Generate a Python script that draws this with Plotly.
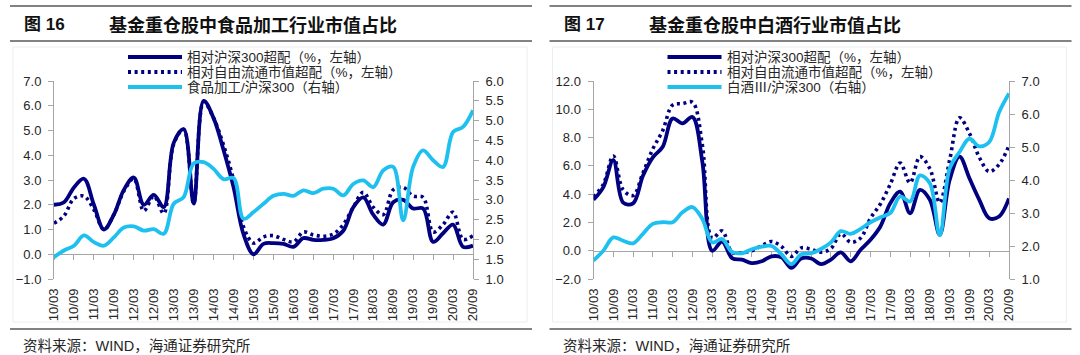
import plotly.graph_objects as go

W, H = 1080, 355

# ---------------- data ----------------
quarters = ["10/03", "10/06", "10/09", "10/12", "11/03", "11/06", "11/09", "11/12",
            "12/03", "12/06", "12/09", "12/12", "13/03", "13/06", "13/09", "13/12",
            "14/03", "14/06", "14/09", "14/12", "15/03", "15/06", "15/09", "15/12",
            "16/03", "16/06", "16/09", "16/12", "17/03", "17/06", "17/09", "17/12",
            "18/03", "18/06", "18/09", "18/12", "19/03", "19/06", "19/09", "19/12",
            "20/03", "20/06", "20/09"]
tick_labels = ["10/03", "10/09", "11/03", "11/09", "12/03", "12/09", "13/03", "13/09",
               "14/03", "14/09", "15/03", "15/09", "16/03", "16/09", "17/03", "17/09",
               "18/03", "18/09", "19/03", "19/09", "20/03", "20/09"]
tick_labels = [t for t in tick_labels if t in quarters]

# Figure 16: food processing
food_vs_hs300 = [2.0, 2.1, 2.7, 3.05, 2.0, 1.0, 1.6, 2.6, 3.1, 2.0,
                 2.4, 1.9, 4.5, 5.05, 2.05, 6.2, 5.5, 4.2, 2.7, 0.8,
                 0.0, 0.42, 0.45, 0.42, 0.3, 0.65, 0.58, 0.58, 0.65, 0.95,
                 1.9, 2.3, 1.6, 1.2, 2.1, 2.2, 1.85, 1.85, 0.5, 0.85,
                 1.2, 0.3, 0.35]
food_vs_free = [1.25, 1.55, 2.25, 2.35, 1.8, 1.0, 1.6, 2.55, 3.05, 1.75,
                2.35, 1.65, 4.45, 5.05, 2.05, 6.15, 5.5, 4.4, 3.0, 1.1,
                0.45, 0.7, 0.75, 0.6, 0.5, 0.9, 0.78, 0.73, 0.82, 1.2,
                1.9, 2.5, 1.9, 1.6, 2.6, 2.7, 2.35, 2.3, 0.9, 1.2,
                1.7, 0.6, 0.75]
food_ratio = [1.55, 1.72, 1.84, 2.1, 1.93, 1.84, 2.05, 2.3, 2.33, 2.22,
              2.26, 2.14, 2.9, 3.07, 3.92, 3.95, 3.78, 3.52, 3.55, 2.52,
              2.69, 2.9, 3.1, 3.15, 3.1, 3.24, 3.17, 3.28, 3.28, 3.11,
              3.4, 3.49, 3.32, 3.74, 3.83, 2.48, 3.83, 4.25, 4.0, 3.83,
              4.71, 4.84, 5.26]

# Figure 17: baijiu
bj_vs_hs300 = [3.6, 4.5, 6.4, 3.4, 3.35, 5.3, 6.6, 7.35, 9.35, 9.0,
               9.46, 6.3, 0.0, 0.65, -0.52, -0.63, -0.87, -0.75, -0.4, -0.47,
               -1.22, -0.55, -0.55, -0.95, -0.63, -0.12, -0.75, 0.07, 0.77, 1.71,
               3.36, 4.18, 2.65, 4.3, 3.6, 1.13, 5.0, 6.65, 5.12, 3.6,
               2.3, 2.42, 3.7]
bj_vs_free = [3.8, 4.7, 6.7, 4.3, 3.9, 5.5, 7.2, 8.5, 10.3, 10.4,
              10.5, 7.5, 0.9, 1.4, -0.1, -0.15, 0.0, 0.35, 0.65, 0.3,
              -0.4, 0.2, 0.1, -0.1, 0.15, 1.2, 0.6, 0.9, 2.3, 3.3,
              4.7, 6.2, 4.8, 6.65, 5.8, 3.4, 6.4, 9.4, 8.3, 6.6,
              5.6, 6.1, 7.45]
bj_ratio = [1.56, 1.86, 2.26, 2.16, 2.08, 2.37, 2.67, 2.72, 2.72, 3.02,
            3.18, 2.82, 2.11, 2.21, 1.82, 1.78, 1.9, 1.98, 2.0, 1.75,
            1.45, 1.75, 1.78, 1.91, 2.11, 2.45, 2.37, 2.52, 2.72, 2.87,
            3.0, 3.5, 3.35, 4.14, 3.9, 2.32, 4.35, 4.85, 5.25, 5.02,
            5.15, 6.05, 6.62]

panels = [
    dict(fig_no="图 16", title="基金重仓股中食品加工行业市值占比",
         s1=food_vs_hs300, s2=food_vs_free, s3=food_ratio,
         n1="相对沪深300超配（%，左轴）", n2="相对自由流通市值超配（%，左轴）",
         n3="食品加工/沪深300（右轴）",
         yl=[-1, 7], yl_dtick=1, yr=[1, 6], yr_dtick=0.5),
    dict(fig_no="图 17", title="基金重仓股中白酒行业市值占比",
         s1=bj_vs_hs300, s2=bj_vs_free, s3=bj_ratio,
         n1="相对沪深300超配（%，左轴）", n2="相对自由流通市值超配（%，左轴）",
         n3="白酒Ⅲ/沪深300（右轴）",
         yl=[-2, 12], yl_dtick=2, yr=[1, 7], yr_dtick=1),
]

# ---------------- style ----------------
NAVY = "#000080"
CYAN = "#1EC0F0"
AXIS = "#A6A6A6"
TXT = "#262626"
RULE = "#595959"
NUM_FONT = "Liberation Sans, Arial, Noto Sans CJK SC"
CJK_FONT = "Liberation Sans, Noto Sans CJK SC"


def px(x):
    return x / W


def py(y):
    return 1 - y / H


OFF = 539.5  # horizontal offset of second panel
plot_x = [(54, 473), (593.5, 1009)]
plot_y = (81, 279)
ydom = [py(plot_y[1]), py(plot_y[0])]

fig = go.Figure()
layout = dict(width=W, height=H, margin=dict(l=0, r=0, t=0, b=0, autoexpand=False),
              autosize=False, paper_bgcolor="white", plot_bgcolor="rgba(0,0,0,0)",
              showlegend=False)
shapes, annos = [], []

for k, p in enumerate(panels):
    xa_lab = "x" if k == 0 else "x3"
    xa_zero = "x2" if k == 0 else "x4"
    ya_l = "y" if k == 0 else "y3"
    ya_r = "y2" if k == 0 else "y4"
    dom = [px(plot_x[k][0]), px(plot_x[k][1])]
    lo, hi = p["yl"]
    zero_pos = ydom[0] + (0 - lo) / (hi - lo) * (ydom[1] - ydom[0])

    common_x = dict(type="category", categoryorder="array", categoryarray=quarters,
                    range=[0, len(quarters) - 1], domain=dom, showgrid=False,
                    zeroline=False, tickmode="array", tickvals=tick_labels,
                    automargin=False)
    layout["xaxis" + ("" if k == 0 else "3")] = dict(
        common_x, anchor=ya_l, showline=False, ticks="", tickangle=-90,
        ticktext=tick_labels, tickfont=dict(family=NUM_FONT, size=13, color=TXT),
        ticklabelstandoff=6)
    layout["xaxis" + ("2" if k == 0 else "4")] = dict(
        common_x, anchor="free", position=zero_pos, overlaying=xa_lab,
        showline=True, linecolor=AXIS, linewidth=1, ticks="outside", ticklen=5,
        tickcolor=AXIS, tickwidth=1, showticklabels=False, layer="below traces")
    yfont = dict(family=NUM_FONT, size=13, color=TXT)
    layout["yaxis" + ("" if k == 0 else "3")] = dict(
        domain=ydom, anchor=xa_lab, range=p["yl"], dtick=p["yl_dtick"], tick0=0,
        tickformat=".1f", showline=True, linecolor=AXIS, linewidth=1,
        ticks="outside", ticklen=5, tickcolor=AXIS, showgrid=False, zeroline=False,
        tickfont=yfont, layer="below traces", ticklabelstandoff=4, automargin=False)
    layout["yaxis" + ("2" if k == 0 else "4")] = dict(
        overlaying=ya_l, side="right", anchor=xa_lab, range=p["yr"],
        dtick=p["yr_dtick"], tick0=1, tickformat=".1f", showline=True,
        linecolor=AXIS, linewidth=1, ticks="outside", ticklen=5, tickcolor=AXIS,
        showgrid=False, zeroline=False, tickfont=yfont, layer="below traces",
        ticklabelstandoff=4, automargin=False)

    # dummy trace to keep the zero axis alive
    fig.add_trace(go.Scatter(x=quarters, y=[None] * len(quarters), xaxis=xa_zero,
                             yaxis=ya_l, mode="lines", hoverinfo="skip",
                             showlegend=False))
    fig.add_trace(go.Scatter(x=quarters, y=p["s1"], xaxis=xa_lab, yaxis=ya_l,
                             mode="lines", name=p["n1"],
                             line=dict(color=NAVY, width=3.8, shape="spline",
                                       smoothing=1.0)))
    fig.add_trace(go.Scatter(x=quarters, y=p["s2"], xaxis=xa_lab, yaxis=ya_l,
                             mode="lines", name=p["n2"],
                             line=dict(color=NAVY, width=3.6, shape="spline",
                                       smoothing=1.0, dash="3px,3.6px")))
    fig.add_trace(go.Scatter(x=quarters, y=p["s3"], xaxis=xa_lab, yaxis=ya_r,
                             mode="lines", name=p["n3"],
                             line=dict(color=CYAN, width=3.8, shape="spline",
                                       smoothing=1.0)))

    o = OFF * k
    # rules
    for yy in (6, 41, 329):
        shapes.append(dict(type="line", xref="paper", yref="paper",
                           x0=px(10 + o), x1=px(532 + o), y0=py(yy), y1=py(yy),
                           line=dict(color=RULE, width=1.5)))
    # faint chart frame
    shapes.append(dict(type="rect", xref="paper", yref="paper",
                       x0=px(13 + o), x1=px(527 + o), y0=py(322), y1=py(47),
                       line=dict(color="#EDEDED", width=1), layer="below"))
    # titles
    annos.append(dict(text="<b>" + p["fig_no"] + "</b>", x=px(22 + o), y=py(24),
                      xref="paper", yref="paper", xanchor="left", yanchor="middle",
                      showarrow=False, font=dict(family=CJK_FONT, size=17, color="#111")))
    annos.append(dict(text="<b>" + p["title"] + "</b>", x=px(107 + o), y=py(24),
                      xref="paper", yref="paper", xanchor="left", yanchor="middle",
                      showarrow=False, font=dict(family="Noto Sans CJK SC", size=18,
                                                 color="#111")))
    # legend
    for r, (nm, dash, col) in enumerate([(p["n1"], "solid", NAVY),
                                         (p["n2"], "3px,3.6px", NAVY),
                                         (p["n3"], "solid", CYAN)]):
        yy = 57 + 15 * r
        shapes.append(dict(type="line", xref="paper", yref="paper",
                           x0=px(128 + o), x1=px(182 + o), y0=py(yy), y1=py(yy),
                           line=dict(color=col, width=3.8, dash=dash)))
        annos.append(dict(text=nm, x=px(185 + o), y=py(yy), xref="paper",
                          yref="paper", xanchor="left", yanchor="middle",
                          showarrow=False,
                          font=dict(family=CJK_FONT, size=13.5, color=TXT)))
    # source
    annos.append(dict(text="资料来源：WIND，海通证券研究所", x=px(21 + o), y=py(346),
                      xref="paper", yref="paper", xanchor="left", yanchor="middle",
                      showarrow=False, font=dict(family=CJK_FONT, size=14.5, color=TXT)))

layout["shapes"] = shapes
layout["annotations"] = annos
fig.update_layout(**layout)
fig.write_html("out.html",
               config={"displayModeBar": False, "staticPlot": True},
               post_script="document.body.style.margin='0';"
                           "document.body.style.overflow='hidden';")
